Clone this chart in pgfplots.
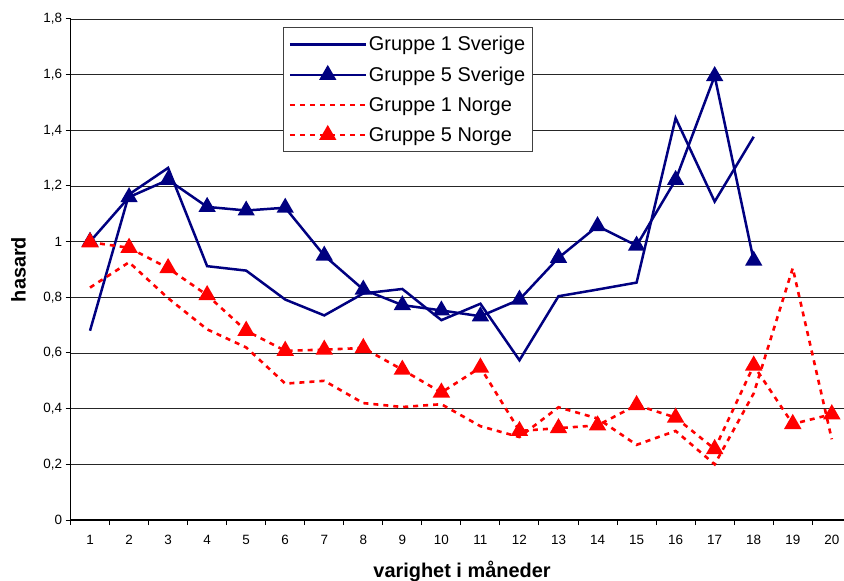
\documentclass[border=0pt]{standalone}
\usepackage{fontspec}
\setmainfont{Liberation Sans}
\usepackage{pgfplots}
\pgfplotsset{compat=1.18}
\definecolor{navy}{RGB}{0,0,128}
\definecolor{rd}{RGB}{255,0,0}
\begin{document}
\begin{tikzpicture}
\begin{axis}[
  scale only axis, width=773bp, height=501bp,
  xmin=0.5, xmax=20.3, ymin=0, ymax=1.8,
  axis x line*=bottom, axis y line*=left,
  axis line style={line width=1.2bp, black, -},
  xtick={1,...,20},
  major x tick style={draw=none},
  minor xtick={0.5,1.5,...,19.5},
  ytick={0,0.2,0.4,0.6,0.8,1.0,1.2,1.4,1.6,1.8},
  tick align=outside, major tick length=5bp, minor tick length=5bp,
  tick style={black, line width=1bp},
  ymajorgrids, grid style={black!85, line width=0.8bp},
  yticklabel style={/pgf/number format/.cd, use comma, fixed, precision=1},
  /pgf/number format/assume math mode=true,
  ticklabel style={font=\fontsize{13.5}{16}\selectfont},
  xticklabel style={yshift=-7bp},
  xlabel={\bfseries varighet i måneder},
  ylabel={\bfseries hasard},
  label style={font=\fontsize{20}{24}\selectfont},
  xlabel style={at={(axis description cs:0.5065,0)}, anchor=base, yshift=-57bp},
  ylabel style={at={(axis description cs:-0.0673,0.5)}, anchor=center},
  legend cell align=left,
  legend image code/.code={\draw[mark repeat=2,mark phase=2,#1] plot coordinates {(0bp,0bp) (38bp,0bp) (76bp,0bp)};},
  legend image post style={line width=2.5bp},
  legend style={at={(0.2749,0.984)}, anchor=north west, draw=black!75, line width=1bp,
    font=\fontsize{20}{24}\selectfont, row sep=10.5bp, inner xsep=5bp, inner ysep=7bp},
]
\addplot[navy, line width=2.5bp] coordinates {
(1,0.68) (2,1.17) (3,1.265) (4,0.912) (5,0.896) (6,0.792) (7,0.735) (8,0.814) (9,0.83) (10,0.718)
(11,0.777) (12,0.574) (13,0.804) (14,0.828) (15,0.853) (16,1.444) (17,1.144) (18,1.377)};
\addlegendentry{Gruppe 1 Sverige\hspace{6bp}}
\addplot[navy, line width=2.5bp, mark=triangle*, mark size=7.5bp, mark options={solid, fill=navy}] coordinates {
(1,1.0) (2,1.16) (3,1.222) (4,1.125) (5,1.112) (6,1.122) (7,0.95) (8,0.828) (9,0.772) (10,0.753)
(11,0.732) (12,0.792) (13,0.942) (14,1.056) (15,0.986) (16,1.222) (17,1.595) (18,0.932)};
\addlegendentry{Gruppe 5 Sverige\hspace{6bp}}
\addplot[rd, line width=2.6bp, dash pattern=on 5bp off 5bp] coordinates {
(1,0.835) (2,0.926) (3,0.797) (4,0.685) (5,0.62) (6,0.49) (7,0.50) (8,0.42) (9,0.406) (10,0.416)
(11,0.337) (12,0.298) (13,0.405) (14,0.365) (15,0.27) (16,0.32) (17,0.20) (18,0.455) (19,0.905) (20,0.29)};
\addlegendentry{Gruppe 1 Norge}
\addplot[rd, line width=2.6bp, dash pattern=on 5bp off 5bp, mark=triangle*, mark size=7.5bp, mark options={solid, fill=rd}] coordinates {
(1,0.998) (2,0.978) (3,0.905) (4,0.808) (5,0.68) (6,0.608) (7,0.612) (8,0.618) (9,0.54) (10,0.458)
(11,0.548) (12,0.32) (13,0.33) (14,0.34) (15,0.413) (16,0.368) (17,0.255) (18,0.555) (19,0.345) (20,0.38)};
\addlegendentry{Gruppe 5 Norge}
\end{axis}
\pgfresetboundingbox
\path (-70.5bp,-61bp) rectangle (773.5bp,520bp);
\end{tikzpicture}
\end{document}
